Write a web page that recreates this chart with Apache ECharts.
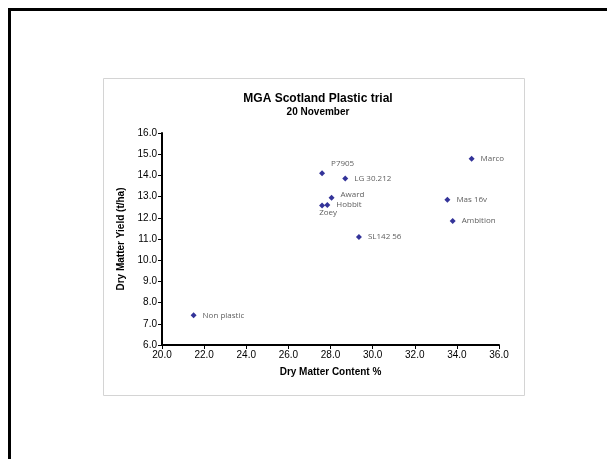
<!DOCTYPE html>
<html>
<head>
<meta charset="utf-8">
<script src="https://cdn.jsdelivr.net/npm/echarts@6/dist/echarts.min.js"></script>
<style>
html,body{margin:0;padding:0;background:#fff;}
#chart{width:607px;height:459px;}
</style>
</head>
<body>
<div id="chart"></div>
<script>
// 品种名称
var varieties = ['Non plastic', 'P7905', 'LG 30.212', 'Award', 'Hobbit', 'Zoey', 'SL142 56', 'Mas 16v', 'Ambition', 'Marco'];
// 干物质含量 %
var dmContent = [21.5, 27.6, 28.7, 28.05, 27.85, 27.6, 29.35, 33.55, 33.8, 34.7];
// 干物质产量 t/ha
var dmYield = [7.4, 14.1, 13.85, 12.95, 12.6, 12.58, 11.1, 12.85, 11.85, 14.78];
// 标签位置
var labelPos = ['right', 'topRight', 'right', 'right', 'right', 'bottom', 'right', 'right', 'right', 'right'];

var chart = echarts.init(document.getElementById('chart'), null, {renderer: 'canvas'});

var points = [];
for (var i = 0; i < varieties.length; ++i) {
	var lp = labelPos[i];
	var lbl = {show: true, position: 'right', distance: 6};
	if (lp == 'topRight') { lbl = {show: true, position: 'right', offset: [2, -10], distance: 4}; }
	else if (lp == 'bottom') { lbl = {show: true, position: 'bottom', offset: [6, -2], distance: 2}; }
	if (varieties[i] == 'Award') lbl.offset = [0, -3];
	points.push({name: varieties[i], value: [dmContent[i], dmYield[i]], label: lbl});
}

var axisFont = {fontFamily: 'Liberation Sans, Arial', fontSize: 10, color: '#000'};

var option = {
	animation: false,
	backgroundColor: '#fff',
	title: {
		text: 'MGA Scotland Plastic trial',
		subtext: '20 November',
		left: 313, top: 88, textAlign: 'center',
		itemGap: 2,
		textStyle: {fontFamily: 'Liberation Sans, Arial', fontSize: 12, fontWeight: 'bold', color: '#000'},
		subtextStyle: {fontFamily: 'Liberation Sans, Arial', fontSize: 10, fontWeight: 'bold', color: '#000'}
	},
	graphic: [
		// 外框
		{type: 'polyline', shape: {points: [[9.5, 459], [9.5, 9.5], [607, 9.5]]}, style: {stroke: '#000', lineWidth: 3, fill: null}, z: 0},
		// 图表区边框
		{type: 'rect', shape: {x: 103.5, y: 78.5, width: 421, height: 317}, style: {stroke: '#d4d4d4', lineWidth: 1, fill: null}, z: 0}
	],
	grid: {left: 162, top: 133, right: 108, bottom: 114},
	xAxis: {
		type: 'value', min: 20, max: 36, interval: 2,
		name: 'Dry Matter Content %', nameLocation: 'middle', nameGap: 22,
		nameTextStyle: {fontFamily: 'Liberation Sans, Arial', fontSize: 10, fontWeight: 'bold', color: '#000'},
		axisLine: {show: true, lineStyle: {color: '#000', width: 2}},
		axisTick: {show: true, length: 4, lineStyle: {color: '#000', width: 1}},
		axisLabel: Object.assign({formatter: function(v){return v.toFixed(1);}, margin: 5}, axisFont),
		splitLine: {show: false}
	},
	yAxis: {
		type: 'value', min: 6, max: 16, interval: 1,
		name: 'Dry Matter Yield (t/ha)', nameLocation: 'middle', nameGap: 32,
		nameTextStyle: {fontFamily: 'Liberation Sans, Arial', fontSize: 10, fontWeight: 'bold', color: '#000'},
		axisLine: {show: true, lineStyle: {color: '#000', width: 2}},
		axisTick: {show: true, length: 4, lineStyle: {color: '#000', width: 1}},
		axisLabel: Object.assign({formatter: function(v){return v.toFixed(1);}, margin: 5}, axisFont),
		splitLine: {show: false}
	},
	series: [{
		type: 'scatter',
		symbol: 'diamond',
		symbolSize: 6,
		itemStyle: {color: '#000080'},
		label: {
			show: true,
			formatter: '{b}',
			fontFamily: 'Open Sans, Noto Sans, sans-serif',
			fontSize: 8,
			color: '#333'
		},
		data: points
	}]
};
chart.setOption(option);
</script>
</body>
</html>
